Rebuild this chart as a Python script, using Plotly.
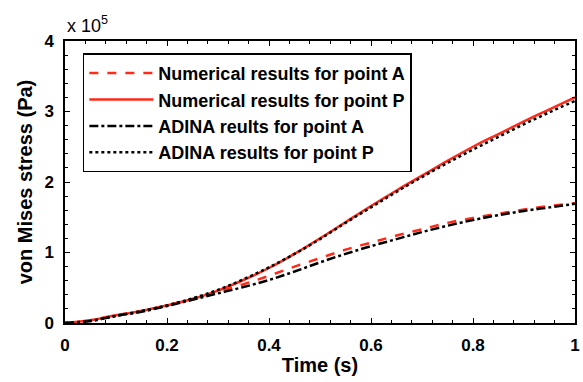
import plotly.graph_objects as go

t = [0.0, 0.05, 0.1, 0.15, 0.2, 0.25, 0.3, 0.35, 0.4, 0.45, 0.5, 0.55, 0.6, 0.65, 0.7, 0.75, 0.8, 0.85, 0.9, 0.95, 1.0]
num_A = [0.0, 0.04, 0.11, 0.17, 0.25, 0.34, 0.44, 0.55, 0.67, 0.80, 0.92, 1.04, 1.14, 1.24, 1.33, 1.42, 1.49, 1.55, 1.61, 1.66, 1.70]
num_P = [0.0, 0.04, 0.11, 0.17, 0.25, 0.34, 0.46, 0.61, 0.78, 0.98, 1.20, 1.43, 1.66, 1.88, 2.09, 2.30, 2.50, 2.68, 2.86, 3.03, 3.20]
adina_A = [0.0, 0.03, 0.10, 0.16, 0.24, 0.33, 0.42, 0.51, 0.61, 0.73, 0.86, 0.98, 1.09, 1.19, 1.29, 1.38, 1.46, 1.53, 1.59, 1.64, 1.69]
adina_P = [0.0, 0.03, 0.10, 0.17, 0.25, 0.35, 0.47, 0.62, 0.79, 0.98, 1.19, 1.42, 1.64, 1.86, 2.07, 2.27, 2.46, 2.64, 2.82, 2.99, 3.15]
scale = 1e5

names = ["Numerical results for point A", "Numerical results for point P",
         "ADINA reults for point A", "ADINA results for point P"]
series = [num_A, num_P, adina_A, adina_P]
colors = ["#ff2a1a", "#ff2a1a", "black", "black"]
dashes = ["dash", "solid", "dashdot", "dot"]

fig = go.Figure()
for nm, s, c, d in zip(names, series, colors, dashes):
    fig.add_trace(go.Scatter(x=t, y=[v * scale for v in s], mode="lines", name=nm,
                             line=dict(color=c, width=2.5, dash=d, shape="spline", smoothing=1.0)))

FAM = "Liberation Sans, Arial"
tickfnt = dict(family=FAM, size=17, color="black", weight="bold")
titlefnt = dict(family=FAM, size=20, color="black", weight="bold")

axis_common = dict(showline=True, linecolor="black", linewidth=1.5, mirror="ticks",
                   ticks="inside", ticklen=5, tickwidth=1, tickcolor="black",
                   showgrid=False, zeroline=False, tickfont=tickfnt)

fig.update_layout(
    width=583, height=382,
    margin=dict(l=65, r=3, t=41, b=59),
    paper_bgcolor="white", plot_bgcolor="white",
    showlegend=True,
    legend=dict(x=0.035, y=0.956, xanchor="left", yanchor="top",
                bordercolor="black", borderwidth=1.5, bgcolor="white",
                itemwidth=64,
                font=dict(family=FAM, size=18, color="black", weight="bold"),
                tracegroupgap=0),
    xaxis=dict(range=[0, 1], tickvals=[0, 0.2, 0.4, 0.6, 0.8, 1],
               ticktext=["0", "0.2", "0.4", "0.6", "0.8", "1"],
               ticklabelstandoff=6,
               minor=dict(dtick=0.04, ticks="inside", ticklen=3, tickcolor="black"),
               title=dict(text="Time (s)", font=titlefnt, standoff=4),
               **axis_common),
    yaxis=dict(range=[0, 4e5], tickvals=[0, 1e5, 2e5, 3e5, 4e5],
               ticktext=["0", "1", "2", "3", "4"],
               ticklabelstandoff=6,
               minor=dict(dtick=2e4, ticks="inside", ticklen=3, tickcolor="black"),
               title=dict(text="von Mises stress (Pa)", font=titlefnt, standoff=6),
               **axis_common),
)

fig.add_annotation(text="x 10<sup>5</sup>", xref="paper", yref="paper", x=0.0, y=1.0,
                   xanchor="left", yanchor="bottom", showarrow=False, yshift=3,
                   font=dict(family=FAM, size=18, color="black"))

fig.write_html("out.html")
